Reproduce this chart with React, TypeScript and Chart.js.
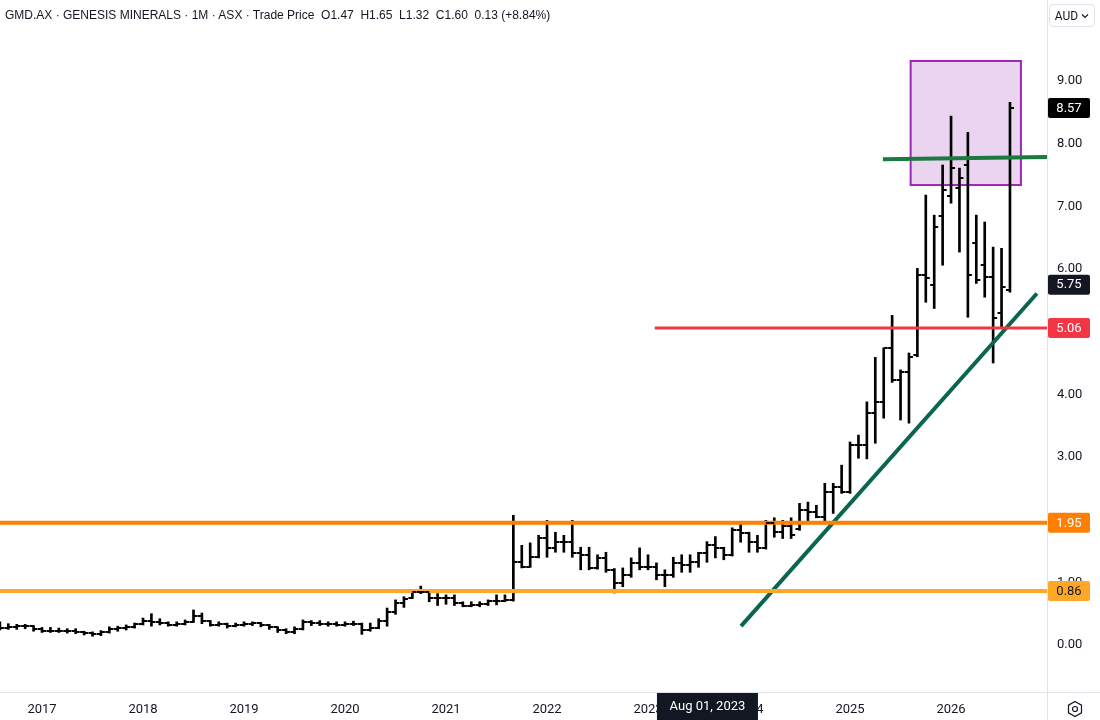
import React, { useEffect, useRef } from "react";
import { Chart, registerables } from "chart.js";
Chart.register(...registerables);

// Monthly bars from Aug 2016 (month index -5 relative to Jan 2017) to Aug 2026
const firstMonthIndex = -5;
const opens = [
  0.30, 0.27, 0.29, 0.30, 0.30,
  0.25, 0.23, 0.23, 0.23, 0.22, 0.20, 0.19, 0.18, 0.20, 0.25, 0.27, 0.28,
  0.33, 0.38, 0.36, 0.35, 0.32, 0.34, 0.37, 0.47, 0.38, 0.32, 0.33, 0.30,
  0.32, 0.33, 0.35, 0.32, 0.28, 0.24, 0.21, 0.25, 0.37, 0.35, 0.34, 0.34,
  0.32, 0.34, 0.33, 0.24, 0.27, 0.38, 0.53, 0.67, 0.75, 0.85, 0.85, 0.75,
  0.75, 0.75, 0.67, 0.63, 0.64, 0.66, 0.70, 0.70, 0.72, 1.32, 1.25, 1.40,
  1.70, 1.55, 1.64, 1.64, 1.47, 1.44, 1.23, 1.39, 1.20, 0.99, 1.12, 1.31,
  1.24, 1.24, 1.12, 1.12, 1.31, 1.28, 1.32, 1.47, 1.60, 1.55, 1.44, 1.84,
  1.79, 1.64, 1.55, 1.94, 1.81, 1.90, 1.85, 2.15, 2.12, 2.04, 2.44, 2.52,
  2.44, 3.19, 3.19, 3.70, 3.88, 4.74, 4.23, 4.35, 4.62, 5.90, 5.75, 6.84,
  7.16, 7.29, 7.66, 6.41, 6.06, 5.88, 5.30, 5.66,
];
const highs = [
  0.37, 0.34, 0.33, 0.33, 0.31,
  0.28, 0.28, 0.27, 0.26, 0.26, 0.22, 0.21, 0.23, 0.29, 0.30, 0.32, 0.35,
  0.43, 0.50, 0.42, 0.37, 0.37, 0.40, 0.56, 0.51, 0.39, 0.37, 0.35, 0.35,
  0.37, 0.37, 0.36, 0.33, 0.29, 0.26, 0.29, 0.40, 0.39, 0.39, 0.37, 0.37,
  0.37, 0.38, 0.35, 0.35, 0.42, 0.59, 0.72, 0.77, 0.88, 0.94, 0.88, 0.82,
  0.80, 0.80, 0.69, 0.69, 0.69, 0.72, 0.80, 0.80, 2.07, 1.59, 1.63, 1.75,
  1.99, 1.80, 1.75, 1.99, 1.56, 1.56, 1.44, 1.48, 1.22, 1.23, 1.39, 1.55,
  1.44, 1.31, 1.20, 1.40, 1.44, 1.44, 1.48, 1.65, 1.73, 1.56, 1.87, 1.95,
  1.80, 1.75, 1.99, 2.03, 1.99, 2.03, 2.26, 2.28, 2.23, 2.58, 2.58, 2.87,
  3.24, 3.35, 3.88, 4.59, 4.74, 5.26, 4.39, 4.66, 6.01, 7.18, 6.86, 7.66,
  8.44, 7.61, 8.18, 6.86, 6.75, 6.35, 6.33, 8.66,
];
const lows = [
  0.24, 0.25, 0.25, 0.26, 0.22,
  0.20, 0.20, 0.20, 0.19, 0.18, 0.16, 0.14, 0.15, 0.19, 0.22, 0.24, 0.27,
  0.32, 0.30, 0.32, 0.30, 0.30, 0.32, 0.36, 0.34, 0.30, 0.30, 0.27, 0.29,
  0.30, 0.31, 0.29, 0.25, 0.20, 0.18, 0.18, 0.24, 0.31, 0.31, 0.30, 0.30,
  0.30, 0.31, 0.17, 0.22, 0.26, 0.30, 0.49, 0.60, 0.74, 0.82, 0.69, 0.63,
  0.65, 0.63, 0.61, 0.61, 0.61, 0.63, 0.64, 0.69, 0.70, 1.23, 1.24, 1.39,
  1.40, 1.48, 1.48, 1.40, 1.20, 1.20, 1.21, 1.16, 0.83, 0.93, 1.08, 1.20,
  1.20, 1.04, 0.93, 1.08, 1.16, 1.16, 1.24, 1.32, 1.39, 1.36, 1.42, 1.64,
  1.48, 1.48, 1.53, 1.72, 1.70, 1.70, 1.83, 1.96, 2.03, 1.96, 2.10, 2.42,
  2.42, 2.98, 2.97, 3.22, 3.62, 4.19, 3.59, 3.54, 4.60, 5.47, 5.37, 6.06,
  7.05, 6.27, 5.23, 5.77, 5.55, 4.50, 5.07, 5.63,
];
const closes = [
  0.27, 0.29, 0.30, 0.30, 0.25,
  0.23, 0.23, 0.23, 0.22, 0.20, 0.19, 0.18, 0.20, 0.25, 0.27, 0.28, 0.33,
  0.38, 0.36, 0.35, 0.32, 0.34, 0.37, 0.47, 0.38, 0.32, 0.33, 0.30, 0.32,
  0.33, 0.35, 0.32, 0.28, 0.24, 0.21, 0.25, 0.37, 0.35, 0.34, 0.34, 0.32,
  0.34, 0.33, 0.24, 0.27, 0.38, 0.53, 0.67, 0.74, 0.85, 0.85, 0.75, 0.75,
  0.75, 0.67, 0.63, 0.64, 0.66, 0.70, 0.70, 0.72, 1.32, 1.25, 1.40, 1.70,
  1.55, 1.64, 1.64, 1.47, 1.44, 1.23, 1.39, 1.20, 0.99, 1.12, 1.31, 1.24,
  1.24, 1.12, 1.12, 1.31, 1.28, 1.32, 1.47, 1.60, 1.55, 1.44, 1.84, 1.79,
  1.64, 1.55, 1.94, 1.81, 1.90, 1.75, 2.15, 2.12, 2.04, 2.44, 2.52, 2.44,
  3.19, 3.19, 3.70, 3.88, 4.74, 4.23, 4.35, 4.60, 5.90, 5.85, 6.67, 7.26,
  7.61, 7.45, 5.90, 5.82, 5.87, 5.22, 5.71, 8.57,
];

const yearLabels = [2017, 2018, 2019, 2020, 2021, 2022, 2023, 2024, 2025, 2026];
const priceTicks = [0, 1, 2, 3, 4, 5, 6, 7, 8, 9];

// drawings (month index, price)
const level195 = [{ x: -5, y: 1.95 }, { x: 120, y: 1.95 }];
const level086 = [{ x: -5, y: 0.86 }, { x: 120, y: 0.86 }];
const level506 = [{ x: 72.8, y: 5.06 }, { x: 120, y: 5.06 }];
const trendLine = [{ x: 83.05, y: 0.3 }, { x: 118.2, y: 5.61 }];
const topLine = [{ x: 99.9, y: 7.75 }, { x: 120, y: 7.79 }];
const boxRange = { x0: 103.2, x1: 116.3, y0: 7.34, y1: 9.32 };

const priceLabels = [
  { value: 8.57, text: "8.57", bg: "#000000", fg: "#ffffff" },
  { value: 5.75, text: "5.75", bg: "#131722", fg: "#ffffff" },
  { value: 5.06, text: "5.06", bg: "#F23645", fg: "#ffffff" },
  { value: 1.95, text: "1.95", bg: "#FF7F00", fg: "#ffffff" },
  { value: 0.86, text: "0.86", bg: "#FFA726", fg: "#131722" },
];
const crosshairMonth = 79;
const crosshairText = "Aug 01, 2023";

const FONT = "Roboto, 'Liberation Sans', Arial, sans-serif";

export default function App() {
  const ref = useRef<HTMLCanvasElement | null>(null);

  useEffect(() => {
    if (!ref.current) return;
    const months = closes.map((_, i) => firstMonthIndex + i);

    const ohlcPlugin = {
      id: "ohlcTicks",
      beforeDatasetsDraw(chart: any) {
        const { ctx, scales, chartArea } = chart;
        const x = scales.x, y = scales.y;
        ctx.save();
        ctx.beginPath();
        ctx.rect(chartArea.left, chartArea.top, chartArea.right - chartArea.left, chartArea.bottom - chartArea.top);
        ctx.clip();
        const bx0 = x.getPixelForValue(boxRange.x0);
        const bx1 = x.getPixelForValue(boxRange.x1);
        const by0 = y.getPixelForValue(boxRange.y1);
        const by1 = y.getPixelForValue(boxRange.y0);
        ctx.fillStyle = "rgba(156, 39, 176, 0.2)";
        ctx.fillRect(bx0, by0, bx1 - bx0, by1 - by0);
        ctx.strokeStyle = "#9C27B0";
        ctx.lineWidth = 2;
        ctx.strokeRect(bx0, by0, bx1 - bx0, by1 - by0);
        ctx.restore();
      },
      afterDatasetsDraw(chart: any) {
        const { ctx, scales, chartArea } = chart;
        const x = scales.x, y = scales.y;
        ctx.save();
        ctx.beginPath();
        ctx.rect(chartArea.left, chartArea.top, chartArea.right - chartArea.left, chartArea.bottom - chartArea.top);
        ctx.clip();
        ctx.strokeStyle = "#000000";
        ctx.lineWidth = 2;
        ctx.beginPath();
        months.forEach((m, i) => {
          const px = x.getPixelForValue(m);
          const yo = Math.round(y.getPixelForValue(opens[i]));
          const yc = Math.round(y.getPixelForValue(closes[i]));
          ctx.moveTo(px - 4, yo);
          ctx.lineTo(px, yo);
          ctx.moveTo(px, yc);
          ctx.lineTo(px + 4, yc);
        });
        ctx.stroke();
        ctx.restore();
      },
      afterDraw(chart: any) {
        const { ctx, scales, chartArea, width, height } = chart;
        const x = scales.x, y = scales.y;
        ctx.save();
        ctx.strokeStyle = "#E0E3EB";
        ctx.lineWidth = 1;
        ctx.beginPath();
        ctx.moveTo(chartArea.right + 0.5, 0);
        ctx.lineTo(chartArea.right + 0.5, height);
        ctx.moveTo(0, chartArea.bottom + 0.5);
        ctx.lineTo(width, chartArea.bottom + 0.5);
        ctx.stroke();
        ctx.font = `13px ${FONT}`;
        ctx.textAlign = "center";
        ctx.textBaseline = "middle";
        priceLabels.forEach((p) => {
          const py = y.getPixelForValue(p.value);
          const lx = chartArea.right + 1;
          ctx.fillStyle = p.bg;
          ctx.beginPath();
          ctx.roundRect(lx, py - 10, 42, 20, 2);
          ctx.fill();
          ctx.fillStyle = p.fg;
          ctx.fillText(p.text, lx + 21, py + 0.5);
        });
        const cx = x.getPixelForValue(crosshairMonth);
        ctx.fillStyle = "#131722";
        ctx.fillRect(cx - 50, chartArea.bottom + 1, 101, height - chartArea.bottom - 1);
        ctx.fillStyle = "#ffffff";
        ctx.fillText(crosshairText, cx + 0.5, (chartArea.bottom + height) / 2 + 1);
        ctx.restore();
      },
    };

    const chart = new Chart(ref.current, {
      type: "bar",
      data: {
        datasets: [
          { type: "line", data: level195, borderColor: "#FF7F00", borderWidth: 4, pointRadius: 0, order: 1 },
          { type: "line", data: level086, borderColor: "#FFA726", borderWidth: 4, pointRadius: 0, order: 1 },
          { type: "line", data: level506, borderColor: "#F23645", borderWidth: 3, pointRadius: 0, order: 1 },
          { type: "line", data: trendLine, borderColor: "#0A6651", borderWidth: 4, pointRadius: 0, order: 1 },
          { type: "line", data: topLine, borderColor: "#1B7A3E", borderWidth: 4, pointRadius: 0, order: 1 },
          {
            type: "bar",
            data: months.map((m, i) => ({ x: m, y: [lows[i], highs[i]] })) as any,
            backgroundColor: "#000000",
            barThickness: 2,
            order: 3,
          },
        ] as any,
      },
      options: {
        responsive: false,
        animation: false,
        devicePixelRatio: 1,
        layout: { padding: 0 },
        plugins: { legend: { display: false }, tooltip: { enabled: false } },
        scales: {
          x: {
            type: "linear",
            min: -4.99,
            max: 119.4,
            offset: false,
            grid: { display: false, drawTicks: false },
            border: { display: false },
            afterBuildTicks: (s: any) => {
              s.ticks = yearLabels.map((yr) => ({ value: (yr - 2017) * 12 }));
            },
            afterFit: (s: any) => {
              s.height = 28;
              s.paddingLeft = 0;
              s.paddingRight = 0;
              s.paddingTop = 0;
              s.paddingBottom = 0;
            },
            ticks: {
              autoSkip: false,
              maxRotation: 0,
              padding: 10,
              color: "#131722",
              font: { family: FONT, size: 13 },
              callback: (v: any) => String(2017 + Math.round(Number(v) / 12)),
            },
          },
          y: {
            type: "linear",
            position: "right",
            min: -0.75,
            max: 10.293,
            grid: { display: false, drawTicks: false },
            border: { display: false },
            afterBuildTicks: (s: any) => {
              s.ticks = priceTicks.map((v) => ({ value: v }));
            },
            afterFit: (s: any) => {
              s.width = 53;
              s.paddingTop = 0;
              s.paddingBottom = 0;
              s.paddingLeft = 0;
              s.paddingRight = 0;
            },
            ticks: {
              padding: 10,
              color: "#131722",
              font: { family: FONT, size: 13 },
              callback: (v: any) => Number(v).toFixed(2),
            },
          },
        },
      },
      plugins: [ohlcPlugin],
    } as any);

    return () => chart.destroy();
  }, []);

  return (
    <div style={{ position: "absolute", left: 0, top: 0, width: 1100, height: 720, background: "#ffffff", overflow: "hidden" }}>
      <canvas ref={ref} width={1100} height={720} style={{ display: "block" }} />
      <div
        style={{
          position: "absolute",
          left: 5,
          top: 8,
          fontFamily: "'Liberation Sans', Arial, sans-serif",
          fontSize: 12,
          color: "#131722",
          whiteSpace: "pre",
          lineHeight: "15px",
        }}
      >
        {"GMD.AX · GENESIS MINERALS · 1M · ASX · Trade Price  O1.47  H1.65  L1.32  C1.60  0.13 (+8.84%)"}
      </div>
      <div
        style={{
          position: "absolute",
          left: 1049,
          top: 4,
          width: 46,
          height: 23,
          boxSizing: "border-box",
          border: "1px solid #E0E3EB",
          borderRadius: 4,
          fontFamily: FONT,
          fontSize: 12,
          color: "#131722",
          display: "flex",
          alignItems: "center",
          justifyContent: "center",
          gap: 3,
        }}
      >
        <span>AUD</span>
        <svg width="8" height="6" viewBox="0 0 8 6">
          <path d="M1 1.5 L4 4.5 L7 1.5" stroke="#131722" strokeWidth="1.2" fill="none" />
        </svg>
      </div>
      <svg style={{ position: "absolute", left: 1066, top: 700 }} width="18" height="18" viewBox="0 0 18 18">
        <path d="M9 1.5 L15.5 5.2 L15.5 12.8 L9 16.5 L2.5 12.8 L2.5 5.2 Z" stroke="#131722" strokeWidth="1.2" fill="none" />
        <circle cx="9" cy="9" r="2.5" stroke="#131722" strokeWidth="1.2" fill="none" />
      </svg>
    </div>
  );
}
